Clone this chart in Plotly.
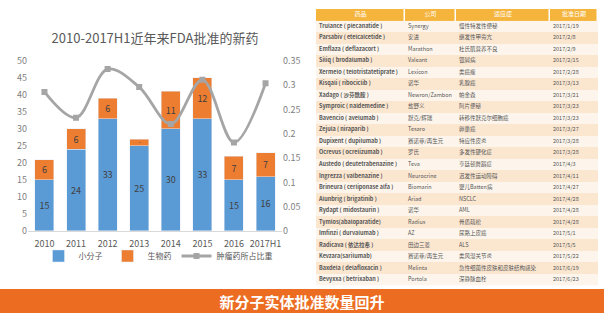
import plotly.graph_objects as go

years = ["2010", "2011", "2012", "2013", "2014", "2015", "2016", "2017H1"]
small_molecule = [15, 24, 33, 25, 30, 33, 15, 16]
biologics = [6, 6, 6, 2, 11, 12, 7, 7]
tumor_share = [0.286, 0.233, 0.333, 0.296, 0.22, 0.311, 0.182, 0.304]

tbl_header = ["药品", "公司", "适应症", "批准日期"]
tbl_drug = ["Trulance ( plecanatide )", "Parsabiv ( etelcalcetide )", "Emflaza ( deflazacort )",
            "Siliq ( brodalumab )", "Xermelo ( telotristatetiprate )", "Kisqali ( ribociclib )",
            "Xadago ( 沙芬酰胺 )", "Symproic ( naldemedine )", "Bavencio ( avelumab )",
            "Zejula ( niraparib )", "Dupixent ( dupilumab )", "Ocrevus ( ocrelizumab )",
            "Austedo ( deutetrabenazine )", "Ingrezza ( valbenazine )", "Brineura ( cerliponase alfa )",
            "Alunbrig ( brigatinib )", "Rydapt ( midostaurin )", "Tymlos(abaloparatide)",
            "Imfinzi ( durvalumab )", "Radicava ( 依达拉奉 )", "Kevzara(sarilumab)",
            "Baxdela ( delafloxacin )", "Bevyxxa ( betrixaban )"]
tbl_company = ["Synergy", "安进", "Marathon", "Valeant", "Lexicon", "诺华", "Newron/Zambon",
               "盐野义", "默克/辉瑞", "Tesaro", "赛诺菲/再生元", "罗氏", "Teva", "Neurocrine",
               "Biomarin", "Ariad", "诺华", "Radius", "AZ", "田边三菱", "赛诺菲/再生元",
               "Melinta", "Portola"]
tbl_indication = ["慢性特发性便秘", "继发性甲旁亢", "杜氏肌营养不良", "银屑病", "类癌瘤", "乳腺癌",
                  "帕金森", "阿片便秘", "转移性默克尔细胞癌", "卵巢癌", "特应性皮炎", "多发性硬化症",
                  "亨廷顿舞蹈症", "迟发性运动障碍", "婴儿Batten病", "NSCLC", "AML", "骨质疏松",
                  "尿路上皮癌", "ALS", "类风湿关节炎", "急性细菌性皮肤和皮肤结构感染", "深静脉血栓"]
tbl_date = ["2017/1/19", "2017/2/8", "2017/2/9", "2017/2/15", "2017/2/28", "2017/3/13", "2017/3/21",
            "2017/3/23", "2017/3/23", "2017/3/27", "2017/3/28", "2017/3/28", "2017/4/3", "2017/4/11",
            "2017/4/27", "2017/4/28", "2017/4/28", "2017/4/28", "2017/5/1", "2017/5/5", "2017/5/22",
            "2017/6/19", "2017/6/23"]
col_widths = [89, 51, 94, 48]
banner_text = "新分子实体批准数量回升"

FONT = "Noto Sans CJK SC, Noto Sans, sans-serif"
W, H = 604, 336

fig = go.Figure()
fig.add_trace(go.Bar(x=years, y=small_molecule, name="小分子", marker_color="#5b9bd5",
                     text=small_molecule, textposition="inside", insidetextanchor="middle",
                     textfont=dict(size=9, color="#404040"), hoverinfo="y"))
fig.add_trace(go.Bar(x=years, y=biologics, name="生物药", marker_color="#ed7d31",
                     text=biologics, textposition="inside", insidetextanchor="middle",
                     textfont=dict(size=9, color="#404040"), hoverinfo="y"))
fig.add_trace(go.Scatter(x=years, y=tumor_share, name="肿瘤药所占比重", yaxis="y2",
                         mode="lines+markers", line=dict(color="#a5a5a5", width=2.8, shape="spline", smoothing=1.0),
                         marker=dict(symbol="square", size=6, color="#a5a5a5")))

# ---- table drawn on its own axes ----
nrow = len(tbl_drug)
edges = [0]
for w in col_widths:
    edges.append(edges[-1] + w)
starts = edges[:-1]
centers = [(edges[i] + edges[i + 1]) / 2 for i in range(len(col_widths))]
rows = list(range(1, nrow + 1))

fig.add_trace(go.Heatmap(x=[edges[0], edges[-1]], y=[r - 0.5 for r in rows] + [nrow + 0.5],
                         z=[[i % 2] for i in range(nrow)],
                         colorscale=[[0, "#fdf5ec"], [1, "#fbe6d0"]], zmin=0, zmax=1,
                         showscale=False, xaxis="x3", yaxis="y3", hoverinfo="skip"))
fig.add_trace(go.Heatmap(x=edges, y=[-0.5, 0.5], z=[[1] * len(col_widths)],
                         colorscale=[[0, "#f5b43c"], [1, "#f5b43c"]], xgap=1.5,
                         showscale=False, xaxis="x3", yaxis="y3", hoverinfo="skip"))
fig.add_trace(go.Scatter(x=centers, y=[0] * len(centers), text=tbl_header, mode="text",
                         textposition="middle center", textfont=dict(size=6, color="white", family=FONT),
                         xaxis="x3", yaxis="y3", showlegend=False, hoverinfo="skip"))
columns = [["<b>" + d + "</b>" for d in tbl_drug], tbl_company, tbl_indication, tbl_date]
for ci, col in enumerate(columns):
    fig.add_trace(go.Scatter(x=[starts[ci] + 3] * nrow, y=rows, text=col, mode="text",
                             textposition="middle right",
                             textfont=dict(size=5.5, color="#555555", family=FONT),
                             xaxis="x3", yaxis="y3", showlegend=False, hoverinfo="skip",
                             cliponaxis=False))

# bottom banner: annotation box with orange background
fig.add_annotation(x=0.5, y=1 - 306 / H, xref="paper", yref="paper", showarrow=False,
                   xanchor="center", yanchor="middle", width=W, height=24, bgcolor="#ec6d22",
                   borderpad=0, borderwidth=0, valign="middle",
                   text="<b>" + banner_text + "</b>", font=dict(size=15, color="white", family=FONT))

fig.update_layout(
    width=W, height=H, margin=dict(l=0, r=0, t=0, b=0),
    paper_bgcolor="white", plot_bgcolor="rgba(0,0,0,0)",
    barmode="stack", bargap=0.4,
    font=dict(family=FONT, color="#7f7f7f", size=9),
    title=dict(text="2010-2017H1近年来FDA批准的新药", x=155 / W, xanchor="center", y=1 - 38 / H, yanchor="middle",
               font=dict(size=13, color="#595959", family=FONT)),
    xaxis=dict(domain=[28 / W, 282 / W], showgrid=False, showline=True, linecolor="#d9d9d9",
               tickfont=dict(size=9, color="#595959"), ticks="", ticklabelstandoff=4),
    yaxis=dict(domain=[1 - 233 / H, 1 - 56 / H], range=[0, 50], dtick=5, showgrid=False,
               zeroline=False, tickfont=dict(size=9, color="#7f7f7f")),
    yaxis2=dict(overlaying="y", side="right", range=[0, 0.35], dtick=0.05, showgrid=False,
                zeroline=False, tickfont=dict(size=9, color="#7f7f7f")),
    xaxis3=dict(domain=[316 / W, 598 / W], range=[edges[0], edges[-1]], visible=False, fixedrange=True),
    yaxis3=dict(domain=[1 - 290 / H, 1 - 2 / H], range=[nrow + 0.5, -0.5], visible=False, fixedrange=True),
    legend=dict(orientation="h", x=158 / W, xanchor="center", y=1 - 259 / H, yanchor="middle",
                traceorder="normal", itemwidth=30, font=dict(size=8, color="#595959"),
                bgcolor="rgba(0,0,0,0)"),
    showlegend=True,
)

fig.write_html("out.html")
